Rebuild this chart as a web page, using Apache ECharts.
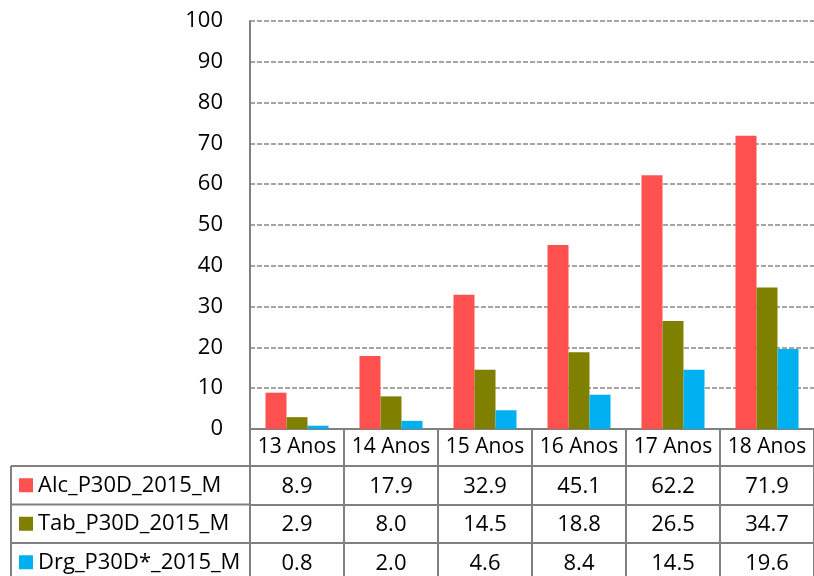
<!DOCTYPE html>
<html>
<head>
<meta charset="utf-8">
<script src="https://cdn.jsdelivr.net/npm/echarts@6/dist/echarts.min.js"></script>
<style>
  html, body { margin: 0; padding: 0; background: #fff; overflow: hidden; }
  #chart { width: 814px; height: 576px; }
</style>
</head>
<body>
<div id="chart"></div>
<script>
//---------------------------Data---------------------------
let categories = ['13 Anos', '14 Anos', '15 Anos', '16 Anos', '17 Anos', '18 Anos'];
let seriesNames = ['Alc_P30D_2015_M', 'Tab_P30D_2015_M', 'Drg_P30D*_2015_M'];
let alcValues = [8.9, 17.9, 32.9, 45.1, 62.2, 71.9];
let tabValues = [2.9, 8.0, 14.5, 18.8, 26.5, 34.7];
let drgValues = [0.8, 2.0, 4.6, 8.4, 14.5, 19.6];
let yMin = 0;
let yMax = 100;
let yStep = 10;

//---------------------------Style---------------------------
let colors = ['#FF5050', '#808000', '#00B0F0'];
let lineColor = '#808080';
let font = 'Open Sans';
let catRowH = 37;
let rowH = 38.5;
let gridTop = 21;
let gridLeft = 250;
let gridBottom = 429;
let tableLeft = 11;

let chart = echarts.init(document.getElementById('chart'));

//one axis per table row, values as labels
function rowAxis(values, k) {
    return {
        type: 'category',
        gridIndex: 0,
        position: 'bottom',
        offset: catRowH + k * rowH,
        data: values.map(function (v) { return v.toFixed(1); }),
        axisLine: { show: true, lineStyle: { color: lineColor, width: 2 } },
        axisTick: { show: true, length: rowH, lineStyle: { color: lineColor, width: 2 } },
        axisLabel: {
            interval: 0, margin: rowH / 2 + 1, verticalAlign: 'middle',
            color: '#000', fontFamily: font, fontSize: 22
        },
        splitLine: { show: false }
    };
}

//left column frame of the table
let frame = [];
for (let k = 0; k < 3; k++) {
    let y = gridBottom + catRowH + k * rowH;
    frame.push({
        type: 'line', silent: true,
        shape: { x1: tableLeft, y1: y, x2: gridLeft, y2: y },
        style: { stroke: lineColor, lineWidth: 2 }
    });
}
frame.push({
    type: 'line', silent: true,
    shape: { x1: tableLeft, y1: gridBottom + catRowH, x2: tableLeft, y2: 600 },
    style: { stroke: lineColor, lineWidth: 2 }
});

let values = [alcValues, tabValues, drgValues];

let option = {
    animation: false,
    backgroundColor: '#fff',
    color: colors,
    grid: { left: gridLeft, top: gridTop, width: 570, height: gridBottom - gridTop },
    legend: {
        orient: 'vertical',
        left: 19,
        top: gridBottom + catRowH + rowH / 2 - 11,
        height: 160,
        padding: 0,
        itemWidth: 14,
        itemHeight: 14,
        itemGap: rowH - 22,
        icon: 'rect',
        selectedMode: false,
        textStyle: { color: '#000', fontFamily: font, fontSize: 22, lineHeight: 22 },
        data: seriesNames
    },
    xAxis: [
        {
            type: 'category',
            data: categories,
            axisLine: { show: true, lineStyle: { color: lineColor, width: 2 } },
            axisTick: { show: true, length: catRowH, lineStyle: { color: lineColor, width: 2 } },
            axisLabel: {
                interval: 0, margin: catRowH / 2, verticalAlign: 'middle',
                color: '#000', fontFamily: font, fontSize: 21
            }
        },
        rowAxis(alcValues, 0),
        rowAxis(tabValues, 1),
        rowAxis(drgValues, 2)
    ],
    yAxis: {
        type: 'value',
        min: yMin,
        max: yMax,
        interval: yStep,
        axisLine: { show: true, lineStyle: { color: lineColor, width: 2 } },
        axisTick: { show: false },
        axisLabel: { margin: 27, color: '#000', fontFamily: font, fontSize: 22 },
        splitLine: { show: true, lineStyle: { color: '#888', width: 1.5, type: [5, 2] } }
    },
    graphic: frame,
    series: seriesNames.map(function (name, i) {
        return {
            name: name,
            type: 'bar',
            xAxisIndex: 0,
            data: values[i],
            barWidth: 21,
            barGap: '0%',
            itemStyle: { color: colors[i] }
        };
    })
};

chart.setOption(option);
</script>
</body>
</html>
